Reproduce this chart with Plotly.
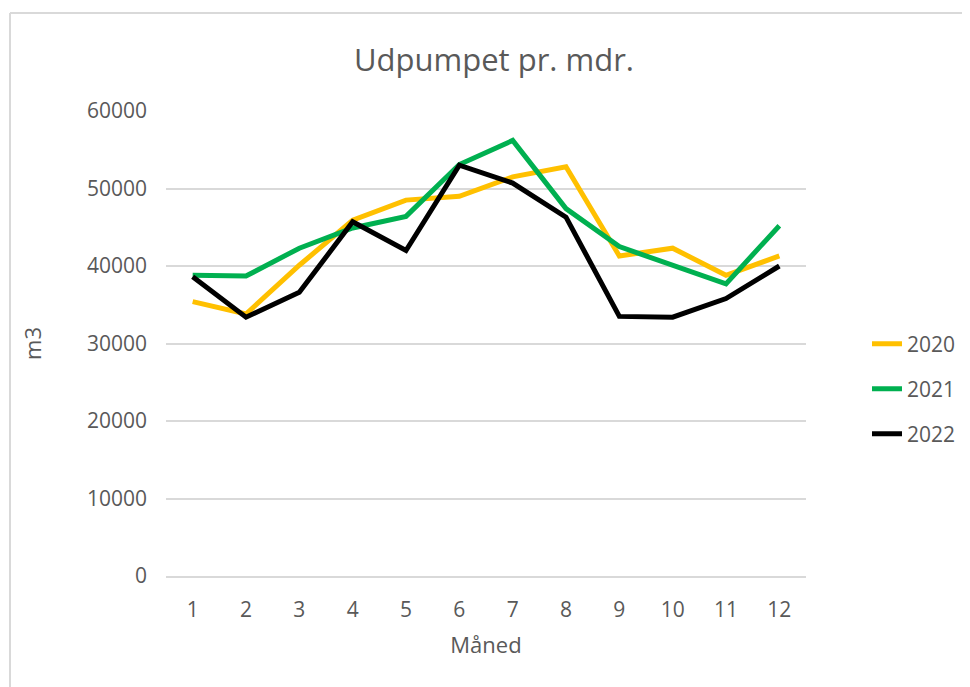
import plotly.graph_objects as go

months = ["1", "2", "3", "4", "5", "6", "7", "8", "9", "10", "11", "12"]
y2020 = [35400, 33800, 40100, 45900, 48500, 49000, 51500, 52800, 41300, 42300, 38800, 41300]
y2021 = [38800, 38700, 42300, 44900, 46400, 53100, 56200, 47400, 42500, 40100, 37700, 45200]
y2022 = [38600, 33400, 36600, 45700, 42000, 53000, 50700, 46300, 33500, 33400, 35800, 40000]
yticks = [0, 10000, 20000, 30000, 40000, 50000, 60000]

FONT = "Open Sans"
GRAY = "#595959"
GRID = "#D9D9D9"

fig = go.Figure()
series = [("2020", y2020, "#FFC000", "legend"),
          ("2021", y2021, "#00B050", "legend2"),
          ("2022", y2022, "#000000", "legend3")]
for name, ys, col, lg in series:
    fig.add_trace(go.Scatter(x=months, y=ys, name=name, mode="lines", showlegend=True,
                             line=dict(color=col, width=5), legend=lg))

OFF = 8  # page body margin
W, H = 970, 687
L, R, T, B = 166 - OFF, 806 - OFF, 111 - OFF, 576 - OFF

def px2x(px):
    return (px - OFF - L) / (R - L)

def py2y(py):
    return (B - (py - OFF)) / (B - T)

leg_common = dict(xanchor="left", yanchor="middle", bgcolor="rgba(0,0,0,0)",
                  font=dict(family=FONT, size=21, color=GRAY), itemwidth=30, visible=True)
fig.update_layout(
    width=W, height=H,
    showlegend=True,
    margin=dict(l=L, r=W - R, t=T, b=H - B),
    paper_bgcolor="white", plot_bgcolor="white",
    font=dict(family=FONT, color=GRAY),
    title=dict(text="Udpumpet pr. mdr.", x=(494 - OFF) / W, xref="container", xanchor="center",
               y=1 - (60 - OFF) / H, yref="container", yanchor="middle",
               font=dict(family=FONT, size=31, color=GRAY)),
    legend=dict(x=px2x(867), y=py2y(344), **leg_common),
    legend2=dict(x=px2x(867), y=py2y(389), **leg_common),
    legend3=dict(x=px2x(867), y=py2y(434), **leg_common),
    xaxis=dict(type="category", range=[-0.5, 11.5], showgrid=False,
               showline=True, linecolor=GRID, linewidth=1.5, ticks="",
               tickfont=dict(family=FONT, size=21, color=GRAY), ticklabelstandoff=14,
               title=dict(text="Måned", font=dict(family=FONT, size=22, color=GRAY), standoff=16),
               fixedrange=True),
    yaxis=dict(range=[0, 60000], tickvals=yticks, ticktext=[str(v) for v in yticks],
               showgrid=True, gridcolor=GRID, gridwidth=1.5, zeroline=False, showline=False,
               ticks="", tickfont=dict(family=FONT, size=21, color=GRAY), ticklabelstandoff=18,
               title=dict(text="m3", font=dict(family=FONT, size=22, color=GRAY), standoff=39),
               fixedrange=True),
    shapes=[
        dict(type="line", xref="paper", yref="paper", x0=px2x(10), x1=px2x(990),
             y0=py2y(13), y1=py2y(13), line=dict(color=GRID, width=2)),
        dict(type="line", xref="paper", yref="paper", x0=px2x(10), x1=px2x(10),
             y0=py2y(13), y1=py2y(700), line=dict(color=GRID, width=2)),
    ],
)

fig.write_html("out.html")
